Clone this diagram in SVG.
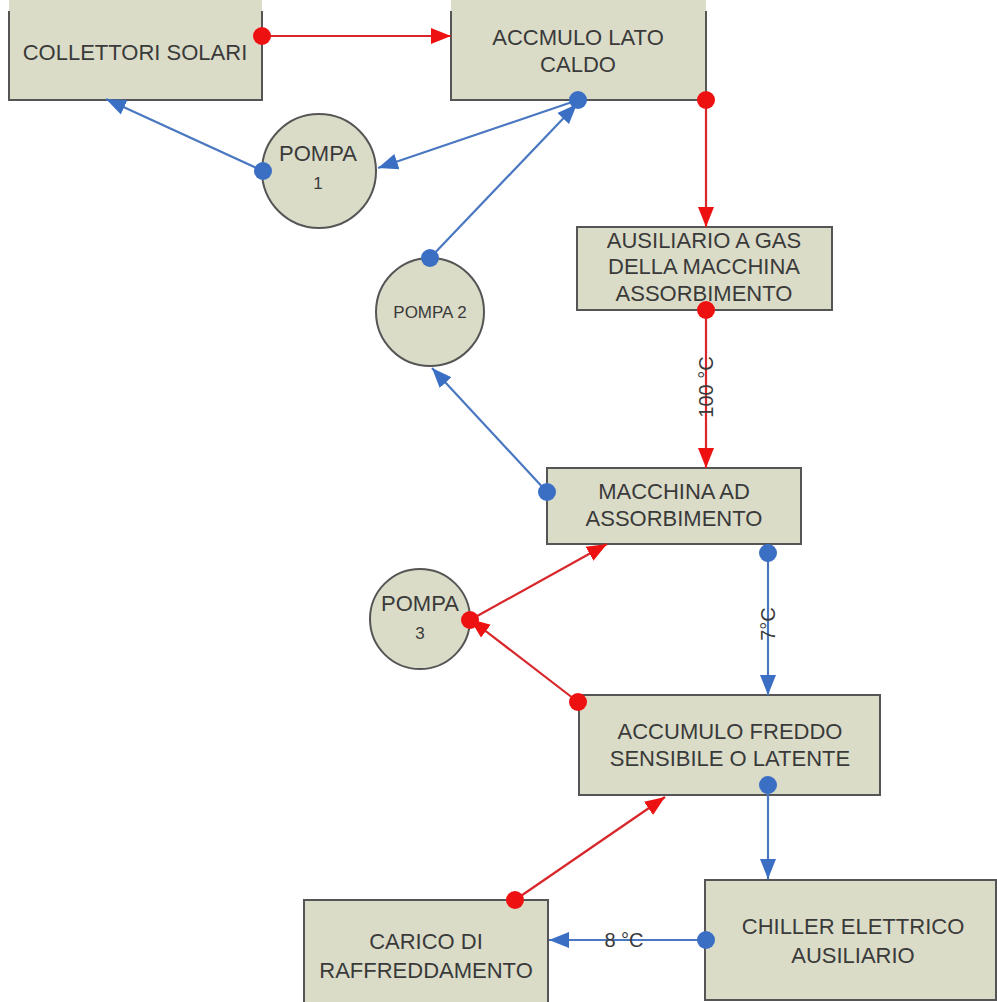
<svg xmlns="http://www.w3.org/2000/svg" width="997" height="1002" viewBox="0 0 997 1002">
<style>
.box{fill:#dadcc8;stroke:#555;stroke-width:2}
.edge{fill:none;stroke:#555;stroke-width:2}
.t{font-family:"Liberation Sans",Arial,sans-serif;font-size:22px;fill:#3a3a3a;text-anchor:middle}
.ts{font-size:17px}
.red{stroke:#d8262a;stroke-width:2.2;fill:none}
.blue{stroke:#4a78c0;stroke-width:2.2;fill:none}
.dr{fill:#ee1111}
.db{fill:#3b6fc4}
.lbl{font-family:"Liberation Sans",Arial,sans-serif;font-size:20px;fill:#3a3a3a;text-anchor:middle}
</style>
<defs>
<marker id="ar" markerUnits="userSpaceOnUse" markerWidth="22" markerHeight="20" refX="20" refY="10" orient="auto">
<path d="M0,2 L20,10 L0,18 Z" fill="#ee1111"/>
</marker>
<marker id="ab" markerUnits="userSpaceOnUse" markerWidth="22" markerHeight="20" refX="20" refY="10" orient="auto">
<path d="M0,2 L20,10 L0,18 Z" fill="#3b6fc4"/>
</marker>
</defs>
<rect width="997" height="1002" fill="#fff"/>

<g id="collettori">
<rect x="9" y="0" width="253" height="100" fill="#dadcc8"/>
<path class="edge" d="M9,11 V100 H262 V11"/>
<text class="t" x="135" y="60">COLLETTORI SOLARI</text>
</g>
<g id="accmulo">
<rect x="451" y="0" width="255" height="100" fill="#dadcc8"/>
<path class="edge" d="M451,11 V100 H706 V11"/>
<text class="t" x="578" y="45">ACCMULO LATO</text>
<text class="t" x="578" y="72">CALDO</text>
</g>
<g id="pompa1">
<circle class="box" cx="319" cy="171" r="57"/>
<text class="t" x="318" y="161">POMPA</text>
<text class="t ts" x="318" y="189">1</text>
</g>
<g id="ausiliario">
<rect class="box" x="577" y="227" width="255" height="83"/>
<text class="t" x="704" y="248">AUSILIARIO A GAS</text>
<text class="t" x="704" y="274">DELLA MACCHINA</text>
<text class="t" x="704" y="301">ASSORBIMENTO</text>
</g>
<g id="pompa2">
<circle class="box" cx="430" cy="312" r="54"/>
<text class="t ts" x="430" y="318">POMPA 2</text>
</g>
<g id="macchina">
<rect class="box" x="547" y="468" width="254" height="76"/>
<text class="t" x="674" y="499">MACCHINA AD</text>
<text class="t" x="674" y="526">ASSORBIMENTO</text>
</g>
<g id="pompa3">
<circle class="box" cx="420" cy="619" r="50"/>
<text class="t" x="420" y="611">POMPA</text>
<text class="t ts" x="420" y="639">3</text>
</g>
<g id="freddo">
<rect class="box" x="579" y="695" width="301" height="100"/>
<text class="t" x="730" y="739">ACCUMULO FREDDO</text>
<text class="t" x="730" y="766">SENSIBILE O LATENTE</text>
</g>
<g id="chiller">
<rect class="box" x="705" y="880" width="291" height="120"/>
<text class="t" x="853" y="934">CHILLER ELETTRICO</text>
<text class="t" x="853" y="963">AUSILIARIO</text>
</g>
<g id="carico">
<rect x="304" y="900" width="244" height="110" fill="#dadcc8"/>
<path class="edge" d="M304,1002 V900 H548 V1002"/>
<text class="t" x="426" y="949">CARICO DI</text>
<text class="t" x="426" y="978">RAFFREDDAMENTO</text>
</g>

<g id="connectors">
<line class="red" x1="262" y1="36" x2="451" y2="36" marker-end="url(#ar)"/>
<line class="red" x1="706" y1="100" x2="706" y2="227" marker-end="url(#ar)"/>
<line class="red" x1="706" y1="310" x2="706" y2="468" marker-end="url(#ar)"/>
<line class="blue" x1="578" y1="100" x2="378" y2="168" marker-end="url(#ab)"/>
<line class="blue" x1="263" y1="171" x2="106" y2="99" marker-end="url(#ab)"/>
<line class="blue" x1="430" y1="258" x2="577" y2="104" marker-end="url(#ab)"/>
<line class="blue" x1="547" y1="492" x2="432" y2="368" marker-end="url(#ab)"/>
<line class="blue" x1="768" y1="553" x2="768" y2="695" marker-end="url(#ab)"/>
<line class="red" x1="470" y1="620" x2="607" y2="544" marker-end="url(#ar)"/>
<line class="red" x1="578" y1="702" x2="470" y2="619" marker-end="url(#ar)"/>
<line class="blue" x1="768" y1="785" x2="768" y2="879" marker-end="url(#ab)"/>
<line class="red" x1="515" y1="900" x2="665" y2="797" marker-end="url(#ar)"/>
<line class="blue" x1="706" y1="940" x2="549" y2="940" marker-end="url(#ab)"/>
<circle class="dr" cx="262" cy="36" r="9"/>
<circle class="dr" cx="706" cy="100" r="9"/>
<circle class="dr" cx="706" cy="310" r="9"/>
<circle class="db" cx="578" cy="100" r="9"/>
<circle class="db" cx="263" cy="171" r="9"/>
<circle class="db" cx="430" cy="258" r="9"/>
<circle class="db" cx="547" cy="492" r="9"/>
<circle class="db" cx="768" cy="553" r="9"/>
<circle class="dr" cx="470" cy="620" r="9"/>
<circle class="dr" cx="578" cy="702" r="9"/>
<circle class="db" cx="768" cy="785" r="9"/>
<circle class="dr" cx="515" cy="900" r="9"/>
<circle class="db" cx="706" cy="940" r="9"/>
<text class="lbl" transform="translate(713,387) rotate(-90)">100 °C</text>
<text class="lbl" transform="translate(775,624) rotate(-90)">7°C</text>
<text class="lbl" x="624" y="947">8 °C</text>
</g>
</svg>
